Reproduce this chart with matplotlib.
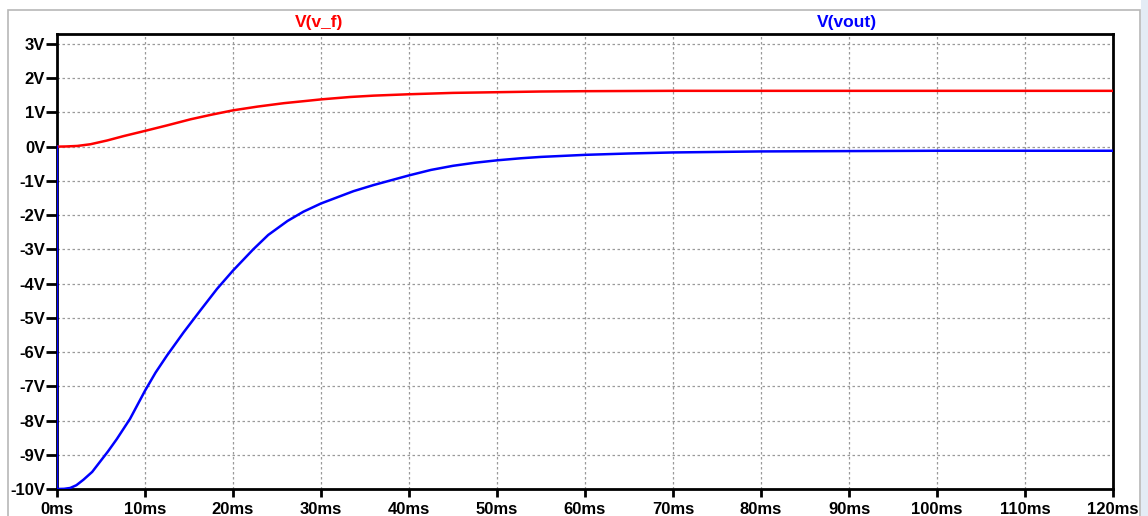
import matplotlib.pyplot as plt
from matplotlib.patches import Rectangle
from matplotlib.ticker import FuncFormatter

# time samples (ms) and node voltages (V)
t_vf = [0, 1, 2.3, 3.8, 5.7, 7.6, 10, 12.5, 15.2, 17.5, 20, 22.8, 25.8,
        28.5, 30, 33.3, 36, 40, 45, 50, 55, 60, 70, 80, 90, 100, 110, 120]
v_f = [0, 0.005, 0.02, 0.07, 0.18, 0.31, 0.46, 0.62, 0.8, 0.93, 1.06, 1.17,
       1.27, 1.34, 1.38, 1.45, 1.49, 1.53, 1.57, 1.59, 1.61, 1.62, 1.63,
       1.63, 1.63, 1.63, 1.63, 1.63]

t_vout = [0, 0, 0.8, 1.5, 2.2, 3, 4, 4.9, 5.8, 6.8, 8.3, 10, 11.2, 12.5,
          14.4, 16.3, 18.2, 20, 22.3, 24, 26.2, 28, 30, 33.7, 36, 40, 42.5,
          45, 47.5, 50, 52.7, 55, 60, 65, 70, 80, 90, 100, 110, 120]
v_out = [0, -10, -9.995, -9.97, -9.89, -9.73, -9.5, -9.2, -8.9, -8.54,
         -7.95, -7.13, -6.6, -6.1, -5.42, -4.78, -4.15, -3.62, -3.0, -2.58,
         -2.17, -1.9, -1.66, -1.3, -1.12, -0.84, -0.68, -0.56, -0.47, -0.4,
         -0.34, -0.3, -0.24, -0.2, -0.17, -0.14, -0.13, -0.12, -0.12, -0.12]

x_ticks = list(range(0, 121, 10))
y_ticks = list(range(-10, 4))

plt.rcParams["font.family"] = ["Liberation Sans", "DejaVu Sans"]
plt.rcParams["font.weight"] = "bold"

fig = plt.figure(figsize=(11.48, 5.16), dpi=100)
W, H = 1148, 516

# outer window frame and the light strip on the right
fig.patches.append(Rectangle((8 / W, 1 - 530 / H), (1140 - 8) / W, (530 - 10) / H,
                             transform=fig.transFigure, fill=False,
                             edgecolor="#b8b8b8", linewidth=1.2))
fig.patches.append(Rectangle((1141 / W, 0), 7 / W, 1, transform=fig.transFigure,
                             facecolor="#e4ecf5", edgecolor="none"))

ax = fig.add_axes([57 / W, 1 - 489 / H, (1113 - 57) / W, (489 - 34) / H])

ax.plot(t_vf, v_f, color="#ff0000", linewidth=1.8, zorder=3)
ax.plot(t_vout, v_out, color="#0000ff", linewidth=1.8, zorder=3)

ax.set_xlim(0, 120)
ax.set_ylim(-10, 3.29)
ax.set_xticks(x_ticks)
ax.set_yticks(y_ticks)
ax.xaxis.set_major_formatter(FuncFormatter(lambda v, p: f"{v:.0f}ms"))
ax.yaxis.set_major_formatter(FuncFormatter(lambda v, p: f"{v:.0f}V"))

ax.grid(True, color="#9a9a9a", linestyle=(0, (2, 2)), linewidth=0.9)
for s in ax.spines.values():
    s.set_linewidth(2)
    s.set_color("black")

ax.tick_params(axis="y", direction="out", length=8, width=2, pad=0.5,
               labelsize=12, colors="black")
ax.tick_params(axis="x", direction="out", length=6, width=2, pad=3,
               labelsize=12, colors="black")
for lbl in ax.get_xticklabels() + ax.get_yticklabels():
    lbl.set_fontweight("bold")

# trace names above the plot
fig.text(319 / W, 1 - 22 / H, "V(v_f)", color="#ff0000", fontsize=12.5,
         fontweight="bold", ha="center", va="center")
fig.text(847 / W, 1 - 22 / H, "V(vout)", color="#0000ff", fontsize=12.5,
         fontweight="bold", ha="center", va="center")

fig.savefig("out.png", dpi=100, facecolor="white")
